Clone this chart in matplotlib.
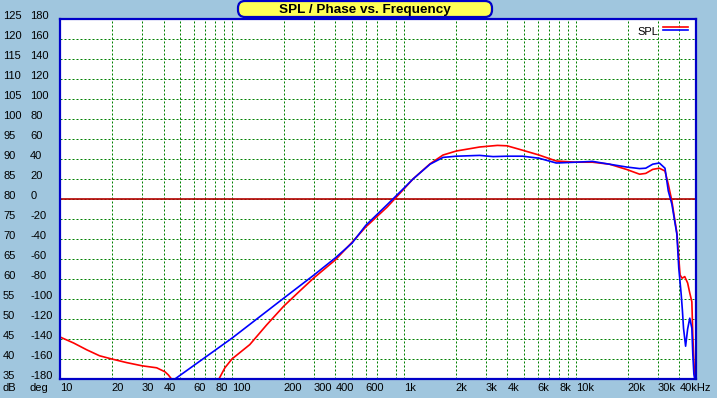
import numpy as np
import matplotlib
matplotlib.use('Agg')
import matplotlib.pyplot as plt
from matplotlib.ticker import FixedLocator, NullFormatter
from matplotlib.patches import FancyBboxPatch
from matplotlib.transforms import IdentityTransform
from matplotlib.legend_handler import HandlerBase
from matplotlib.lines import Line2D

plt.rcParams['font.family'] = ['Liberation Sans', 'DejaVu Sans']

red_freq = [10, 12, 14.3, 17, 20, 24.4, 30, 36.5, 40.8, 42.7, 44.5, 84, 91, 100, 127, 159,
            200, 248, 300, 400, 500, 600, 800, 1000, 1130, 1420, 1690, 2020, 2760, 3500,
            3980, 4900, 6100, 7700, 10000, 12500, 15700, 19700, 23500, 25500, 28000, 30600,
            33000, 34500, 36200, 37500, 38700, 40400, 41500, 43000, 44700, 46000, 47300,
            47900, 48600, 49200]
red_db = [45.5, 44, 42.3, 40.8, 40, 39.1, 38.3, 37.8, 36.8, 36, 35, 35, 37.8, 40, 43.6, 48.5,
          53.2, 57, 60.3, 64.8, 69.2, 73, 78, 82.5, 85, 88.8, 91, 92, 93, 93.4,
          93.3, 92.2, 91, 89.5, 89.2, 89.2, 88.7, 87.4, 86.2, 86.4, 87.4, 87.7,
          87, 83.7, 79.5, 75.2, 71.5, 61, 60.2, 60.6, 59, 56.5, 54.3,
          46, 39.5, 35]

blue_freq = [46.6, 100, 200, 300, 400, 500, 600, 800, 1000, 1130, 1420, 1690,
             2020, 2760, 3300, 3980, 4900, 6100, 7700, 10000, 12500, 15700, 19700, 23500,
             25500, 28000, 30600, 33000, 34500, 36200, 38700, 39700, 41000, 41700, 42300,
             43500, 44700, 46000, 47300, 47900, 48600, 49200]
blue_db = [35, 45.2, 55.2, 61, 65.3, 69, 73.4, 78.6, 82.7, 85, 88.7, 90.4,
           90.7, 90.9, 90.6, 90.7, 90.7, 90.2, 89, 89.2, 89.4, 88.7, 88, 87.6,
           87.7, 88.7, 89, 87.7, 82, 78.7, 71.2, 62.7, 56.2, 52, 47.7,
           43.2, 47.5, 50.2, 47.7, 41.2, 36.2, 35]

x_ticks = [10, 20, 30, 40, 60, 80, 100, 200, 300, 400, 600, 1000, 2000, 3000, 4000,
           6000, 8000, 10000, 20000, 30000, 40000]
x_labels = ['10', '20', '30', '40', '60', '80', '100', '200', '300', '400', '600', '1k',
            '2k', '3k', '4k', '6k', '8k', '10k', '20k', '30k', '40kHz']
x_minor = [50, 70, 90, 500, 700, 900, 5000, 7000, 9000]

db_ticks = list(range(35, 126, 5))
deg_ticks = list(range(-180, 181, 20))

bg = '#a0c6de'
fig = plt.figure(figsize=(7.17, 3.98), dpi=100, facecolor=bg)
ax = fig.add_axes([60 / 717, 19 / 398, 636 / 717, 360 / 398])
ax.set_facecolor('white')

ax.plot(red_freq, red_db, color='red', lw=1.2, zorder=3)
ax.plot(blue_freq, blue_db, color='blue', lw=1.2, zorder=4)
ax.axhline(80, color='#b40000', lw=1.2, zorder=2)

ax.set_xscale('log')
ax.set_xlim(10, 50000)
ax.set_ylim(35, 125)
ax.xaxis.set_major_locator(FixedLocator(x_ticks))
ax.xaxis.set_minor_locator(FixedLocator(x_minor))
ax.xaxis.set_minor_formatter(NullFormatter())
ax.set_xticklabels(x_labels, ha='left', fontsize=8)
ax.set_yticks(db_ticks)
ax.set_yticklabels([str(v) for v in db_ticks], ha='left', va='baseline', fontsize=8)
ax.tick_params(which='both', length=0)
ax.tick_params(axis='x', pad=3)
ax.tick_params(axis='y', pad=41)
# dotted green grid
ax.grid(which='both', color='#008000', linestyle=(0, (2, 2)), linewidth=0.72)

for s in ax.spines.values():
    s.set_color('#0000c8')
    s.set_linewidth(1.6)
    s.set_zorder(5)

sec = ax.secondary_yaxis('left', functions=(lambda d: (d - 80) * 4, lambda p: p / 4 + 80))
sec.set_yticks(deg_ticks)
sec.set_yticklabels([str(v) for v in deg_ticks], ha='left', va='baseline', fontsize=8)
sec.tick_params(length=0, pad=21.5)
sec.spines['left'].set_visible(False)

fig.text(3 / 717, 1 - 388 / 398, 'dB', fontsize=8, va='center')
fig.text(30 / 717, 1 - 388 / 398, 'deg', fontsize=8, va='center')


class StackedHandler(HandlerBase):
    def create_artists(self, legend, orig_handle, xdescent, ydescent, width, height, fontsize, trans):
        r = Line2D([0, width], [height * 0.95] * 2, color='red', lw=1.2, transform=trans)
        b = Line2D([0, width], [height * 0.6] * 2, color='blue', lw=1.2, transform=trans)
        return [r, b]


h = Line2D([], [])
ax.legend([h], ['SPL'], handler_map={h: StackedHandler()}, loc='upper right',
          frameon=False, markerfirst=False, handlelength=2.3, fontsize=8,
          borderaxespad=0.2, borderpad=0.5, handletextpad=0.4)

# title badge
fig.patches.append(FancyBboxPatch((238, 381), 254, 16, boxstyle='round,pad=0,rounding_size=7',
                                  transform=IdentityTransform(), facecolor='#ffff55',
                                  edgecolor='#0000c8', linewidth=1.6, zorder=10))
fig.text(365 / 717, 1 - 10 / 398, 'SPL / Phase vs. Frequency', ha='center', va='center',
         fontweight='bold', fontsize=9.7, zorder=11)

fig.savefig('out.png', dpi=100, facecolor=bg)
